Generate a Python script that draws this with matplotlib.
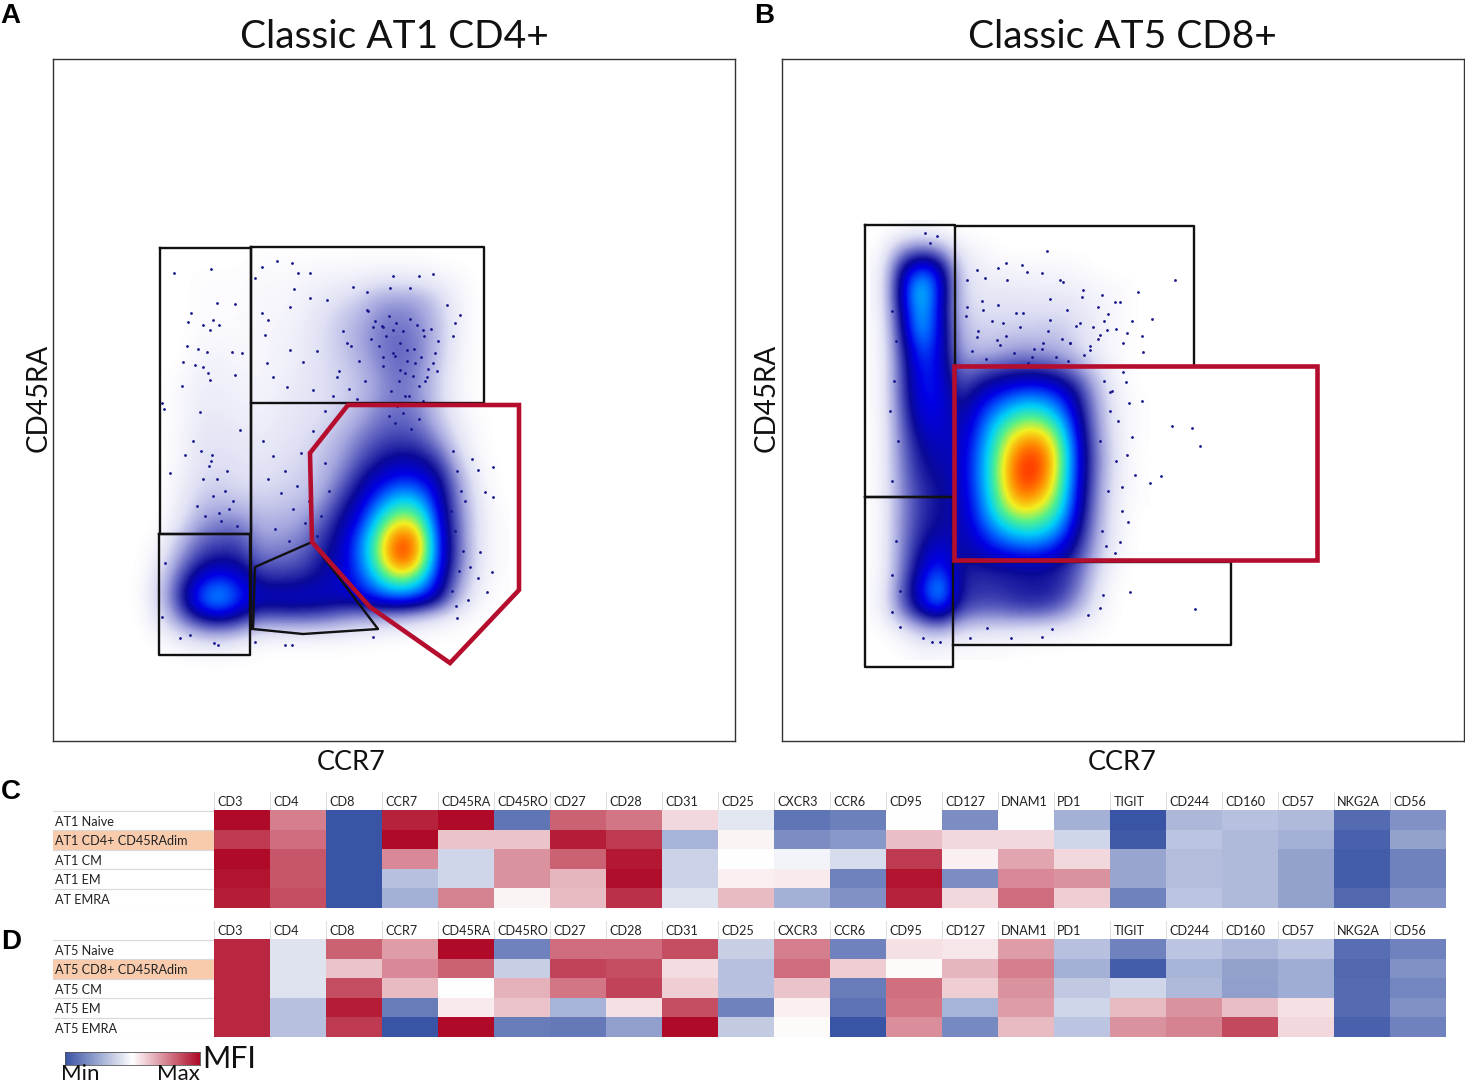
import numpy as np
import matplotlib.pyplot as plt
from matplotlib.colors import LinearSegmentedColormap
from matplotlib.patches import Polygon, Rectangle

plt.rcParams['font.family'] = ['Lato', 'DejaVu Sans']

# density: 0 empty, 4 solid navy, 7 cyan, 9 yellow, 11 red
a_x = [87, 107, 127, 147, 167, 187, 207, 227, 247, 267, 287, 307, 327, 347, 367, 387, 407, 427, 447]
a_y = [501, 481, 461, 441, 421, 401, 381, 361, 341, 321, 301, 281, 261, 241, 221, 201, 181, 161, 141, 121, 101, 81]
a_density = [
    [0, 0, 0, 0, 0, 0, 0, 0, 0, 0, 0, 0, 0, 0, 0, 0, 0, 0, 0],
    [0, 0, 0, 0, 0, 0, .1, .1, .1, .1, .1, .1, .1, .1, .1, 0, 0, 0, 0],
    [0, 0, 0, .1, .1, .1, .2, .2, .3, .4, .5, .6, .8, .8, .7, .5, .2, 0, 0],
    [0, 0, 0, .1, .1, .1, .3, .3, .4, .7, 1, 1.4, 2, 2.2, 2, 1.2, .4, 0, 0],
    [0, 0, 0, .1, .1, .1, .3, .3, .5, .9, 1.4, 1.8, 2.5, 2.6, 2.3, 1.5, .4, 0, 0],
    [0, 0, 0, .2, .3, .2, .3, .4, .6, 1, 1.4, 2, 2.6, 2.9, 2.5, 1.5, .4, 0, 0],
    [0, 0, 0, .4, .4, .3, .3, .4, .6, 1, 1.3, 1.8, 2.5, 2.9, 2.5, 1.4, .3, 0, 0],
    [0, 0, .2, .5, .5, .4, .3, .5, .7, 1, 1.2, 1.6, 2.2, 2.8, 2.3, 1.2, .3, 0, 0],
    [0, 0, .2, .6, .6, .5, .4, .6, .8, 1, 1.2, 1.6, 2.3, 2.7, 2.3, 1.2, .3, 0, 0],
    [0, 0, .2, .7, .7, .6, .5, .7, .9, 1, 1.4, 2, 2.7, 2.9, 2.6, 1.5, .5, .1, 0],
    [0, 0, .3, .8, .9, .8, .6, .8, 1, 1.3, 1.8, 2.6, 3.2, 3.4, 3.2, 2.2, .8, .1, 0],
    [0, 0, .3, .9, 1, .9, .8, 1, 1.1, 1.5, 2.1, 3.1, 3.9, 4.3, 4.2, 3.3, 1.3, .2, 0],
    [0, 0, .4, 1.1, 1.2, 1, 1, 1.1, 1.3, 1.6, 2.6, 3.9, 4.8, 5.4, 5.2, 4.2, 2, .4, 0],
    [0, 0, .6, 1.4, 1.6, 1.4, 1.3, 1.4, 1.5, 2, 3.4, 4.5, 6, 7.2, 6.8, 4.6, 2.3, .6, 0],
    [0, 0, .8, 2, 2.4, 2.4, 1.7, 1.8, 2, 2.8, 4, 5.1, 7.5, 9, 8.4, 4.9, 2.6, .7, .1],
    [0, .2, 1.6, 2.8, 3.2, 3.2, 2.2, 2.2, 2.5, 3.4, 4.3, 6, 8.6, 11, 9.8, 5.2, 2.7, .7, .1],
    [0, .6, 2.3, 3.6, 4, 3.8, 2.8, 2.8, 3, 3.8, 4.5, 6, 8.6, 11, 9.5, 5.2, 2.7, .7, .1],
    [0, 1.2, 3.2, 5, 5.7, 5, 3.8, 3.7, 3.8, 4.2, 4.6, 5.5, 7.2, 8.4, 7.4, 4.8, 2.2, .5, .1],
    [0, 1.4, 3.6, 6, 6.9, 5.5, 4.6, 4.8, 4.8, 4.7, 4.5, 4.6, 5.3, 5.6, 5.2, 4, 1.5, .3, 0],
    [0, .8, 2.4, 3.8, 4.2, 3.7, 2.6, 2.7, 2.7, 2.6, 2.2, 1.8, 1.6, 1.4, 1, .5, .2, 0, 0],
    [0, .1, .6, 1, 1.2, .8, .3, .2, .2, .2, .2, .1, .1, 0, 0, 0, 0, 0, 0],
    [0, 0, 0, 0, 0, 0, 0, 0, 0, 0, 0, 0, 0, 0, 0, 0, 0, 0, 0],
]

b_x = [98, 118, 138, 158, 178, 198, 218, 238, 258, 278, 298, 318, 338, 358]
b_y = [511, 491, 471, 451, 431, 411, 391, 371, 351, 331, 311, 291, 271, 251, 231, 211, 191, 171, 151, 131, 111, 91]
b_density = [
    [0, 0, .3, 0, 0, 0, 0, 0, 0, 0, 0, 0, 0, 0],
    [0, 2.2, 3, 2.4, .6, .3, 0, 0, 0, 0, 0, 0, 0, 0],
    [.2, 4, 6, 5, 1.2, .5, .4, .3, .3, .3, .2, 0, 0, 0],
    [.2, 4.4, 7.6, 5.2, 1.4, .7, .7, .7, .6, .6, .5, .3, .2, 0],
    [.2, 4, 7.2, 5, 1.4, 1, 1, 1, 1, 1, .8, .4, .2, 0],
    [.1, 3.6, 7, 5, 1.8, 1.2, 1.3, 1.3, 1.4, 1.4, 1, .5, .2, 0],
    [.1, 3.2, 6, 5, 2, 1.6, 1.8, 2.2, 2, 1.8, 1.2, .4, .1, 0],
    [.1, 3, 5.5, 5, 2.6, 3, 3.4, 3.6, 3.6, 3.2, 2.3, 1, .2, 0],
    [.1, 3, 5.2, 5.2, 3.2, 4.3, 5, 5.5, 5.6, 5, 3.6, 1.5, .3, 0],
    [.1, 2.8, 5, 5, 3.8, 5.2, 6.4, 7.4, 7.4, 6.3, 4.1, 1.8, .4, .1],
    [.1, 2.6, 4.5, 4.8, 4.2, 5.7, 7.8, 9, 9.2, 7.7, 4.5, 2, .4, .1],
    [.1, 2.5, 4, 4.5, 4.4, 6.1, 8.4, 10.4, 10.6, 8.5, 4.8, 2.2, .5, 0],
    [.1, 2.4, 3.8, 4.2, 4.5, 6.2, 8.7, 11, 10.9, 8.5, 4.8, 2.2, .5, 0],
    [.1, 2.3, 3.5, 4, 4.4, 6.1, 8.5, 10.6, 10.2, 8.1, 4.7, 2, .4, .1],
    [.1, 2.2, 3.5, 4, 4.3, 5.8, 8, 9.2, 8.8, 7.5, 4.4, 1.9, .3, 0],
    [.1, 2.3, 3.6, 4.2, 4.2, 5.3, 6.6, 7.4, 7.4, 6.3, 4, 1.7, .3, 0],
    [.1, 2.3, 4, 5, 4, 4.6, 5.2, 5.6, 5.6, 4.9, 3.4, 1.5, .2, 0],
    [.1, 2.4, 4.5, 5.8, 3.8, 3.7, 3.8, 3.9, 3.9, 3.7, 2.9, 1, .1, 0],
    [.2, 2.8, 5, 7.2, 3.8, 3.5, 3.6, 3.8, 3.9, 3.7, 2.5, .6, 0, 0],
    [.2, 2.6, 4.4, 5.6, 3.4, 3, 3, 3.3, 3.3, 2.8, 1.6, .4, 0, 0],
    [0, .6, 1.6, 2, 1.2, .9, .9, .8, .7, .5, .3, .1, 0, 0],
    [0, 0, .3, .2, .1, .1, .1, 0, 0, 0, 0, 0, 0, 0],
]

# single events that stand out from the clouds
a_dots_x = [121, 158, 164, 182, 138, 135, 160, 166, 150, 157, 134, 145, 154, 179, 189, 130, 142, 150, 155, 182,
            129, 157, 147, 111, 109, 187, 117, 132, 159, 209, 224, 239, 202, 257, 245, 241, 340, 366, 380, 209,
            215, 237, 257, 274, 300, 314, 337, 357, 407, 394, 402, 400, 212, 237, 214, 220, 250, 234, 260, 284,
            314, 320, 330, 294, 340, 354, 370, 347, 374, 330, 380, 440, 425, 419, 432, 440, 427, 439, 425, 434,
            404, 417, 415, 127, 161, 165, 202, 232, 239, 320, 137, 109, 112,
            315, 322, 329, 336, 343, 350, 357, 364, 371, 378, 385, 326, 333, 340, 347, 354, 361, 368, 375, 382,
            318, 330, 342, 352, 362, 372, 384, 338, 346, 356, 366, 344, 352, 360, 370, 336, 342, 350, 358, 366,
            290, 298, 306, 286, 296, 304, 312, 280, 272, 264,
            140, 148, 156, 164, 172, 180, 144, 152, 160, 168, 176, 184, 150, 158, 166, 174,
            210, 220, 232, 244, 256, 268, 215, 228, 240, 252, 264, 276, 222, 236, 248, 260, 272,
            400, 404, 408, 398, 402, 410, 406, 399, 403, 412]
a_dots_y = [468, 472, 438, 437, 428, 419, 421, 416, 416, 411, 395, 392, 389, 389, 388, 379, 376, 374, 368, 366,
            355, 361, 329, 332, 338, 311, 268, 286, 286, 474, 480, 478, 463, 468, 468, 452, 465, 465, 467, 428,
            421, 434, 443, 441, 454, 449, 453, 453, 426, 436, 418, 405, 406, 391, 378, 364, 379, 354, 351, 364,
            431, 414, 414, 398, 411, 391, 411, 371, 364, 384, 378, 274, 271, 282, 249, 244, 189, 169, 163, 149,
            123, 174, 141, 103, 98, 96, 99, 96, 96, 104, 106, 124, 178,
            430, 420, 415, 425, 418, 410, 422, 416, 405, 412, 400, 395, 405, 388, 398, 380, 392, 384, 372, 388,
            402, 375, 385, 368, 378, 360, 370, 350, 360, 345, 355, 335, 345, 365, 340, 325, 318, 328, 312, 322,
            410, 395, 380, 370, 352, 342, 360, 345, 330, 390,
            300, 290, 275, 262, 250, 240, 235, 225, 245, 220, 232, 215, 262, 280, 228, 270,
            300, 285, 270, 255, 240, 225, 262, 248, 232, 218, 205, 250, 212, 200, 288, 310, 278,
            290, 270, 250, 230, 210, 190, 170, 150, 135, 240]
b_dots_x = [265, 224, 240, 216, 195, 245, 203, 260, 225, 185, 278, 281, 393, 356, 301, 320, 333, 338, 326, 316,
            370, 350, 360, 361, 345, 185, 201, 221, 241, 268, 285, 298, 311, 325, 341, 195, 215, 261, 288, 308,
            341, 344, 328, 347, 360, 390, 410, 418, 379, 368, 353, 350, 345, 340, 346, 338, 333, 348, 413, 321,
            318, 306, 141, 150, 158, 188, 229, 260, 270, 205, 118, 110, 110, 143, 148, 155,
            190, 204, 218, 232, 246, 260, 274, 288, 302, 316, 196, 210, 224, 238, 252, 266, 280, 294, 308, 322,
            184, 200, 216, 234, 250, 268, 286, 300, 318, 334,
            322, 328, 318, 334, 326, 340, 320, 330, 336, 324,
            110, 114, 112, 108, 116, 110, 114, 118]
b_dots_y = [490, 478, 476, 473, 471, 469, 463, 468, 461, 461, 461, 459, 461, 449, 451, 446, 439, 439, 427, 434,
            422, 420, 405, 389, 408, 434, 431, 418, 428, 421, 431, 418, 414, 411, 398, 404, 401, 398, 398, 391,
            369, 359, 349, 338, 340, 315, 313, 295, 265, 258, 266, 304, 286, 254, 219, 199, 188, 149, 132, 146,
            133, 126, 103, 99, 99, 103, 103, 104, 112, 113, 114, 129, 166, 508, 498, 505,
            390, 382, 396, 388, 378, 392, 384, 398, 386, 402, 410, 420, 405, 414, 392, 410, 402, 415, 395, 420,
            425, 440, 436, 428, 384, 442, 380, 444, 406, 412,
            360, 330, 300, 280, 250, 230, 210, 350, 320, 195,
            430, 400, 360, 330, 300, 260, 200, 150]

# gates
a_gate_left_x = [107, 198, 198, 107, 107]
a_gate_left_y = [493, 493, 207, 207, 493]
a_gate_low_x = [106, 197, 197, 106, 106]
a_gate_low_y = [207, 207, 86, 86, 207]
a_gate_top_x = [198, 431, 431, 198, 198]
a_gate_top_y = [494, 494, 338, 338, 494]
a_gate_mid_x = [198, 198]
a_gate_mid_y = [338, 112]
a_gate_tail_x = [259, 202, 200, 250, 325, 259]
a_gate_tail_y = [199, 174, 112, 107, 112, 199]
a_gate_red_x = [295, 466, 466, 397, 317, 259, 257]
a_gate_red_y = [336, 336, 151, 78, 134, 199, 288]

b_gate_left_x = [83, 173, 173, 83, 83]
b_gate_left_y = [516, 516, 244, 244, 516]
b_gate_low_x = [83, 171, 171, 83, 83]
b_gate_low_y = [244, 244, 74, 74, 244]
b_gate_top_x = [173, 412, 412]
b_gate_top_y = [515, 515, 376]
b_gate_bottom_x = [171, 449, 449, 171]
b_gate_bottom_y = [179, 179, 96, 96]
b_gate_red_x = [172, 535, 535, 172]
b_gate_red_y = [375, 375, 181, 181]

markers = ['CD3', 'CD4', 'CD8', 'CCR7', 'CD45RA', 'CD45RO', 'CD27', 'CD28', 'CD31', 'CD25', 'CXCR3',
           'CCR6', 'CD95', 'CD127', 'DNAM1', 'PD1', 'TIGIT', 'CD244', 'CD160', 'CD57', 'NKG2A', 'CD56']
c_rows = ['AT1 Naive', 'AT1 CD4+ CD45RAdim', 'AT1 CM', 'AT1 EM', 'AT EMRA']
d_rows = ['AT5 Naive', 'AT5 CD8+ CD45RAdim', 'AT5 CM', 'AT5 EM', 'AT5 EMRA']
# 0 = min (blue), 50 = white, 100 = max (red)
c_mfi = [
    [100, 76, 0, 95, 100, 10, 82, 78, 58, 43, 10, 13, 50, 17, 50, 27, 0, 29, 32, 30, 7, 18],
    [90, 80, 0, 100, 62, 62, 96, 90, 28, 52, 17, 20, 63, 58, 58, 38, 2, 33, 30, 27, 4, 23],
    [100, 84, 0, 74, 38, 72, 82, 97, 37, 50, 47, 40, 90, 53, 68, 58, 24, 31, 30, 23, 3, 14],
    [98, 84, 0, 32, 38, 72, 65, 99, 37, 53, 54, 14, 98, 17, 74, 72, 24, 31, 30, 23, 3, 14],
    [96, 86, 0, 27, 75, 52, 64, 92, 42, 64, 27, 18, 95, 58, 80, 60, 14, 33, 30, 23, 6, 18],
]
d_mfi = [
    [94, 42, 82, 70, 100, 14, 80, 80, 86, 36, 76, 14, 56, 55, 70, 32, 14, 33, 29, 33, 8, 14],
    [94, 42, 62, 74, 82, 36, 88, 86, 57, 32, 80, 60, 51, 65, 76, 27, 3, 28, 23, 26, 6, 18],
    [94, 42, 86, 64, 50, 66, 78, 88, 60, 32, 62, 12, 79, 60, 72, 34, 38, 30, 22, 26, 7, 15],
    [94, 32, 96, 12, 54, 62, 28, 56, 86, 14, 53, 9, 78, 28, 70, 38, 64, 72, 63, 56, 7, 18],
    [94, 32, 90, 0, 100, 12, 11, 22, 100, 35, 51, 0, 73, 16, 64, 33, 72, 75, 87, 58, 4, 14],
]

W, H = 1465, 1084
RED = '#B40D2D'
density_cmap = LinearSegmentedColormap.from_list('flow', [
    (0 / 11, '#ffffff'), (1 / 11, '#dfe0f4'), (2 / 11, '#a4a6de'), (3 / 11, '#5659bc'),
    (4 / 11, '#0a0a98'), (5 / 11, '#0000e6'), (6 / 11, '#0068ff'), (7 / 11, '#00d0f8'),
    (8 / 11, '#50f090'), (9 / 11, '#f2f020'), (10 / 11, '#ff8a00'), (11 / 11, '#ff2200')])
mfi_cmap = LinearSegmentedColormap.from_list('mfi', ['#3A54A5', '#ffffff', '#AF0A27'])


def px_axes(fig, left, top, right, bottom):
    return fig.add_axes([left / W, 1 - bottom / H, (right - left) / W, (bottom - top) / H])


def flow_panel(ax, xs, ys, density, dots_x, dots_y):
    dx, dy = xs[1] - xs[0], ys[0] - ys[1]
    ax.imshow(density, cmap=density_cmap, vmin=0, vmax=11, interpolation='bicubic', aspect='auto', zorder=1,
              extent=[xs[0] - dx / 2, xs[-1] + dx / 2, ys[-1] - dy / 2, ys[0] + dy / 2])
    ax.scatter(dots_x, dots_y, s=4, color='#14148c', linewidths=0, zorder=2)
    ax.set_xlim(0, 682)
    ax.set_ylim(0, 682)
    ax.set_xticks([])
    ax.set_yticks([])
    for s in ax.spines.values():
        s.set_linewidth(1.0)
        s.set_color('#333333')


def heat_panel(ax, values, rows, highlight):
    ax.imshow(values, cmap=mfi_cmap, vmin=0, vmax=100, aspect='auto', interpolation='nearest',
              extent=[0, len(markers), len(rows), 0], zorder=2)
    ax.set_xlim(-161 / 56, len(markers))
    ax.set_ylim(len(rows), -19 / 19.5)
    ax.axis('off')
    ax.add_patch(Rectangle((-161 / 56, highlight), 161 / 56, 1, fc='#F8CBAD', ec='none', zorder=1))
    for i in range(len(rows) + 1):
        ax.plot([-161 / 56, 0], [i, i], color='#d9d9d9', lw=0.8, zorder=1)
    ax.plot([0, len(markers)], [0, 0], color='#d9d9d9', lw=0.8, zorder=1)
    for i, name in enumerate(rows):
        ax.text(-159 / 56, i + 0.58, name, fontsize=9.1, color='#222222', ha='left', va='center', zorder=3)
    for j, name in enumerate(markers):
        ax.plot([j, j], [-1, 0], color='#e0e0e0', lw=0.8, zorder=1)
        ax.text(j + 0.06, -0.42, name, fontsize=9.1, color='#222222', ha='left', va='center', zorder=3)


fig = plt.figure(figsize=(W / 100, H / 100), dpi=100)

ax_a = px_axes(fig, 53, 59, 735, 741)
flow_panel(ax_a, a_x, a_y, a_density, a_dots_x, a_dots_y)
for gx, gy in [(a_gate_left_x, a_gate_left_y), (a_gate_low_x, a_gate_low_y), (a_gate_top_x, a_gate_top_y),
               (a_gate_mid_x, a_gate_mid_y), (a_gate_tail_x, a_gate_tail_y)]:
    ax_a.plot(gx, gy, color='#111111', lw=1.7, zorder=3, solid_joinstyle='round')
ax_a.add_patch(Polygon(np.column_stack([a_gate_red_x, a_gate_red_y]), closed=True, fill=False,
                       ec=RED, lw=3.3, joinstyle='miter', zorder=4))

ax_b = px_axes(fig, 782, 59, 1464, 741)
flow_panel(ax_b, b_x, b_y, b_density, b_dots_x, b_dots_y)
for gx, gy in [(b_gate_left_x, b_gate_left_y), (b_gate_low_x, b_gate_low_y), (b_gate_top_x, b_gate_top_y),
               (b_gate_bottom_x, b_gate_bottom_y)]:
    ax_b.plot(gx, gy, color='#111111', lw=1.7, zorder=3, solid_joinstyle='round')
ax_b.add_patch(Polygon(np.column_stack([b_gate_red_x, b_gate_red_y]), closed=True, fill=False,
                       ec=RED, lw=3.3, joinstyle='miter', zorder=4))

ax_c = px_axes(fig, 53, 791.5, 1446, 908)
heat_panel(ax_c, c_mfi, c_rows, 1)
ax_d = px_axes(fig, 53, 920.5, 1446, 1037)
heat_panel(ax_d, d_mfi, d_rows, 1)

# colour key
ax_key = px_axes(fig, 65, 1052, 200, 1065)
ax_key.imshow([np.linspace(0, 100, 200)], cmap=mfi_cmap, aspect='auto', vmin=0, vmax=100)
ax_key.set_xticks([])
ax_key.set_yticks([])
for s in ax_key.spines.values():
    s.set_linewidth(0.6)
    s.set_color('#555555')


def label(x, y, s, **kw):
    fig.text(x / W, 1 - y / H, s, ha='center', va='center', color='#111111', **kw)


label(394, 37, 'Classic AT1 CD4+', fontsize=28)
label(1122, 37, 'Classic AT5 CD8+', fontsize=28)
label(351, 762, 'CCR7', fontsize=19.5)
label(1122, 762, 'CCR7', fontsize=19.5)
label(39, 398, 'CD45RA', fontsize=20, rotation=90)
label(767, 398, 'CD45RA', fontsize=20, rotation=90)
label(80, 1073.5, 'Min', fontsize=16)
label(178, 1073.5, 'Max', fontsize=16)
label(229, 1059, 'MFI', fontsize=22)
for x, y, s in [(10, 16, 'A'), (764, 16, 'B'), (11, 792, 'C'), (11, 942, 'D')]:
    fig.text(x / W, 1 - y / H, s, ha='center', va='center', color='black', fontsize=20,
             fontweight='bold', family='Liberation Sans')

fig.savefig('out.png', dpi=100)
